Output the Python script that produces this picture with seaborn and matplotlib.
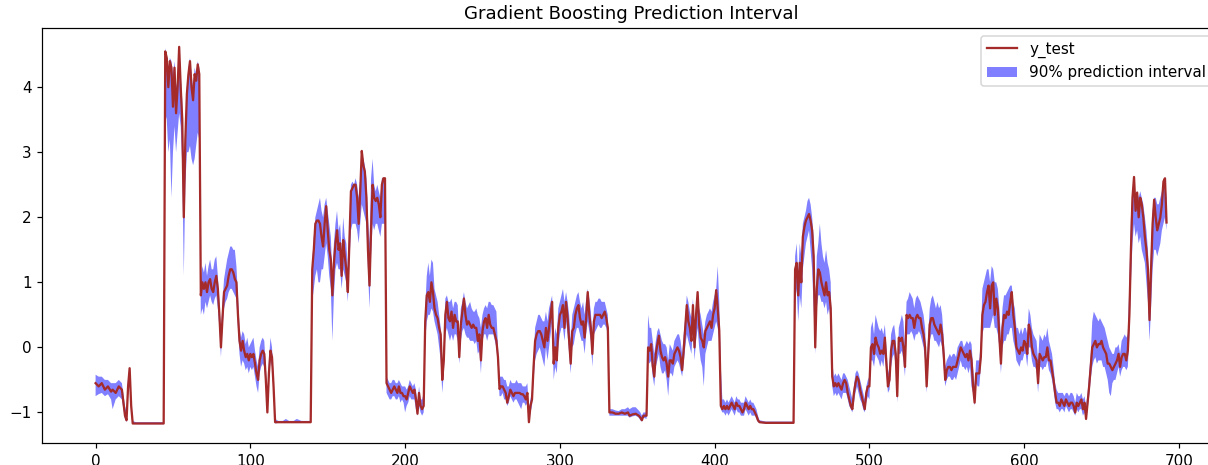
import matplotlib
matplotlib.use("Agg")
import matplotlib.pyplot as plt
import seaborn as sns

# sample index positions (x axis)
idx = ([0, 2, 4, 6, 8, 10, 11, 13, 15, 17, 19, 20, 21, 22, 23, 24, 26, 30, 34, 38, 42, 44]
       + list(range(45, 117))
       + [118, 121, 123, 125, 128, 130, 133, 136, 139]
       + list(range(140, 332))
       + [332, 334, 336, 338, 340, 342, 344, 345, 347, 349, 351, 352, 353, 354, 356]
       + list(range(357, 430))
       + [433, 437, 441, 445, 449, 451]
       + list(range(452, 693)))

y_test = [
    # A 0-44
    -0.55, -0.6, -0.55, -0.65, -0.6, -0.68, -0.65, -0.7, -0.6, -0.65, -1.05, -1.12, -0.6, -0.32, -0.9,
    -1.17, -1.17, -1.17, -1.17, -1.17, -1.17, -1.17,
    # B 45-67
    4.55, 4.45, 4.0, 4.4, 4.3, 3.7, 4.3, 3.6, 4.0, 4.62, 4.0, 3.5, 2.0, 3.2, 3.9, 4.2, 4.4, 4.0, 3.8, 4.2,
    4.1, 4.35, 4.2,
    # C 68-93
    0.8, 1.0, 0.9, 1.0, 0.85, 1.0, 1.05, 0.9, 0.85, 1.0, 1.1, 0.9, 0.5, 0.0, 0.45, 0.85, 0.9, 0.95, 1.1,
    1.2, 1.2, 1.15, 1.05, 1.0, 0.5, 0.1,
    # D 94-116
    -0.05, 0.1, -0.05, -0.15, -0.1, -0.2, -0.1, -0.15, -0.1, -0.25, -0.4, -0.5, -0.2, -0.1, -0.05, -0.1,
    -0.5, -1.0, -0.4, -0.05, -0.15, -0.6, -1.15,
    # flat
    -1.15, -1.15, -1.15, -1.15, -1.15, -1.15, -1.15, -1.15, -1.15,
    # E 140-188
    1.2, 1.5, 1.9, 1.95, 1.95, 1.9, 1.7, 1.55, 1.9, 2.17,
    1.8, 1.5, 1.35, 0.8, 1.3, 1.6, 1.8, 1.5, 1.6, 1.1,
    1.65, 1.4, 1.2, 0.85, 1.6, 2.4, 2.45, 2.5, 2.5, 2.3,
    1.9, 2.4, 3.02, 2.8, 2.7, 2.3, 1.5, 0.95, 1.8, 2.5,
    2.3, 2.25, 2.3, 2.2, 2.0, 2.5, 2.6, 2.6, -0.55,
    # F 189-212
    -0.6, -0.65, -0.7, -0.65, -0.6, -0.65, -0.7, -0.6, -0.7, -0.7,
    -0.75, -0.75, -0.8, -0.7, -0.6, -0.65, -0.7, -0.65, -0.8, -1.02,
    -0.7, -0.9, -0.95, -0.9,
    # G 213-260
    0.4, 0.8, 0.85, 0.7, 1.0, 0.85, 0.6, 0.5, 0.45, 0.3,
    0.2, -0.5, -0.2, 0.5, 0.7, 0.45, 0.4, 0.55, 0.3, 0.5,
    0.4, 0.4, -0.15, 0.35, 0.55, 0.75, 0.5, 0.35, 0.4, 0.35,
    0.3, 0.35, 0.3, 0.3, 0.1, 0.2, -0.2, 0.25, 0.4, 0.45,
    0.3, 0.5, 0.35, 0.3, 0.3, 0.2, 0.1, -0.15,
    # H 261-283
    -0.64, -0.6, -0.6, -0.65, -0.7, -0.85, -0.75, -0.65, -0.7, -0.75,
    -0.7, -0.7, -0.7, -0.7, -0.72, -0.72, -0.75, -0.8, -0.7, -1.15,
    -0.9, -0.8, -0.3,
    # I 284-331
    0.1, 0.2, 0.25, 0.25, 0.2, 0.1, 0.0, 0.3, 0.1, 0.3,
    0.5, 0.7, -0.25, 0.0, -0.2, 0.3, 0.5, 0.55, 0.65, 0.3,
    0.7, 0.45, 0.1, -0.25, 0.25, 0.3, 0.5, 0.6, 0.65, 0.45,
    0.35, 0.4, 0.15, 0.45, 0.85, 0.5, 0.3, -0.1, 0.4, 0.5,
    0.5, 0.5, 0.5, 0.45, 0.5, 0.55, 0.45, 0.3,
    # J 332-356
    -1.0, -1.0, -1.02, -1.02, -1.0, -1.02, -1.0, -1.05, -1.03, -1.02, -1.05, -1.08, -1.12, -1.05, -1.05,
    # K 357-404
    0.0, -0.05, 0.05, -0.28, -0.45, -0.1, 0.05, 0.18, -0.05, -0.15,
    -0.2, -0.15, -0.25, -0.45, -0.2, -0.2, -0.25, -0.1, -0.05, 0.0,
    -0.05, -0.15, -0.35, -0.05, 0.3, 0.65, 0.4, 0.3, 0.1, 0.65,
    0.0, 0.5, 0.85, 0.35, 0.15, 0.1, 0.0, 0.25, 0.3, 0.35,
    0.4, 0.3, 0.5, 0.6, 0.88, 0.6, 0.26, -0.9,
    # L 405-429
    -0.95, -0.9, -0.95, -0.9, -0.95, -0.9, -0.85, -0.9, -0.95, -0.85,
    -0.9, -0.9, -0.95, -1.0, -0.95, -0.85, -0.9, -0.95, -0.9, -0.95,
    -0.95, -1.0, -1.05, -1.12, -1.15,
    # flat
    -1.16, -1.16, -1.16, -1.16, -1.16, -1.16,
    # M 452-476
    1.2, 1.3, 0.8, 1.3, 1.0, 1.7, 1.85, 1.95, 2.0, 2.05,
    1.95, 1.8, 1.4, 0.0, 0.9, 1.2, 1.15, 1.0, 0.9, 0.8,
    1.0, 0.8, 0.85, 0.6, -0.45,
    # N 477-500
    -0.6, -0.55, -0.6, -0.55, -0.6, -0.65, -0.55, -0.5, -0.55, -0.7,
    -0.8, -0.9, -0.95, -0.7, -0.55, -0.45, -0.5, -0.65, -0.75, -0.85,
    -0.95, -0.7, -0.6, -0.6,
    # O 501-548
    0.0, 0.05, -0.1, 0.15, 0.05, 0.0, -0.1, -0.05, -0.1, 0.15,
    -0.25, -0.6, -0.5, -0.05, 0.1, 0.1, -0.1, -0.75, 0.15, 0.1,
    0.15, 0.0, -0.3, 0.5, 0.45, 0.5, 0.45, 0.45, 0.3, 0.45,
    0.5, 0.45, 0.45, 0.3, 0.2, 0.0, -0.6, -0.1, 0.35, 0.45,
    0.45, 0.35, 0.3, 0.25, 0.2, 0.35, 0.2, -0.1,
    # P 549-572
    -0.5, -0.35, -0.3, -0.3, -0.35, -0.3, -0.3, -0.3, -0.2, -0.1,
    0.0, -0.05, -0.1, -0.15, -0.1, -0.2, -0.05, -0.2, -0.6, -0.85,
    -0.4, -0.4, -0.4, -0.15,
    # Q 573-619
    0.5, 0.65, 0.7, 0.85, 0.95, 0.6, 0.95, 1.0, 0.5, 0.75,
    0.6, 0.15, -0.25, 0.3, 0.5, 0.45, 0.55, 0.5, 0.7, 0.85,
    0.5, 0.3, 0.0, -0.05, -0.1, 0.0, -0.05, 0.1, 0.05, -0.1,
    0.35, 0.25, 0.0, -0.1, -0.15, -0.2, -0.55, -0.1, -0.15, -0.2,
    -0.15, -0.15, 0.0, -0.2, -0.2, -0.35, -0.5,
    # R 620-643
    -0.7, -0.85, -0.85, -0.9, -0.8, -0.85, -0.9, -0.8, -0.85, -0.9,
    -0.85, -0.85, -0.9, -1.0, -0.85, -0.9, -0.85, -0.8, -0.95, -0.85,
    -1.1, -0.85, -0.6, -0.3,
    # S 644-668
    0.0, 0.05, 0.1, 0.0, 0.05, 0.05, 0.1, 0.0, -0.05, -0.1,
    -0.25, -0.25, -0.3, -0.35, -0.3, -0.25, -0.2, -0.1, -0.3, -0.15,
    -0.1, -0.1, -0.2, -0.05, 0.5,
    # T 669-692
    1.5, 2.3, 2.62, 2.1, 2.38, 2.0, 2.3, 2.2, 2.0, 1.7,
    1.5, 1.2, 0.42, 1.2, 1.9, 2.27, 2.0, 1.8, 1.9, 2.0,
    2.2, 2.55, 2.6, 1.92,
]

y_lower = [
    # A
    -0.75, -0.72, -0.7, -0.75, -0.72, -0.8, -0.95, -0.8, -0.75, -0.8, -1.1, -1.15, -0.75, -0.4, -1.0,
    -1.17, -1.18, -1.18, -1.18, -1.18, -1.18, -1.18,
    # B
    3.6, 3.5, 3.0, 3.2, 2.3, 3.0, 3.4, 3.0, 3.3, 3.6, 3.4, 2.8, 1.1, 2.5, 3.0, 3.0, 3.1, 2.9, 2.8, 2.9,
    3.1, 3.3, 3.2,
    # C
    0.5, 0.6, 0.5, 0.7, 0.6, 0.7, 0.8, 0.7, 0.65, 0.75, 0.8, 0.6, 0.3, -0.15, 0.3, 0.6, 0.7, 0.75, 0.85,
    0.9, 0.9, 0.85, 0.8, 0.75, 0.3, -0.1,
    # D
    -0.3, -0.2, -0.25, -0.35, -0.3, -0.4, -0.3, -0.35, -0.3, -0.45, -0.6, -0.7, -0.4, -0.3, -0.25, -0.3,
    -0.6, -1.0, -0.5, -0.2, -0.3, -0.7, -1.17,
    # flat
    -1.16, -1.16, -1.16, -1.16, -1.16, -1.16, -1.16, -1.16, -1.16,
    # E
    0.7, 0.9, 1.1, 1.2, 1.0, 1.0, 1.2, 1.2, 1.4, 1.6,
    1.4, 1.1, 0.9, 0.1, 0.8, 1.2, 1.3, 1.2, 1.2, 0.9,
    1.2, 1.1, 1.0, 0.7, 1.3, 1.8, 1.9, 1.9, 1.9, 1.8,
    1.6, 1.9, 2.2, 2.1, 2.0, 1.9, 1.2, 0.6, 1.4, 1.9,
    1.8, 1.9, 1.9, 1.8, 1.7, 1.9, 1.9, 1.9, -0.7,
    # F
    -0.75, -0.8, -0.8, -0.75, -0.75, -0.8, -0.8, -0.75, -0.85, -0.8,
    -0.85, -1.0, -0.9, -0.85, -0.75, -0.8, -0.8, -0.8, -0.95, -1.05,
    -0.9, -1.0, -1.05, -1.0,
    # G
    0.1, 0.4, 0.5, 0.5, 0.6, 0.55, 0.4, 0.3, 0.2, 0.0,
    -0.2, -0.7, -0.4, 0.2, 0.3, 0.2, 0.1, 0.2, 0.1, 0.2,
    0.2, 0.1, -0.25, 0.1, 0.25, 0.3, 0.2, 0.15, 0.15, 0.1,
    0.1, 0.1, 0.05, 0.1, -0.1, -0.05, -0.4, 0.1, 0.2, 0.2,
    0.1, 0.2, 0.2, 0.2, 0.2, 0.1, 0.0, -0.3,
    # H
    -0.75, -0.75, -0.7, -0.8, -0.8, -0.9, -0.85, -0.75, -0.8, -0.85,
    -0.8, -0.8, -0.85, -0.9, -0.95, -0.85, -0.85, -0.9, -0.85, -1.15,
    -1.0, -0.9, -0.5,
    # I
    -0.2, -0.1, -0.05, 0.0, -0.1, -0.2, -0.3, 0.0, -0.2, 0.0,
    0.2, 0.4, -0.5, -0.3, -0.4, 0.0, 0.2, 0.3, 0.3, 0.1,
    0.4, 0.2, -0.1, -0.4, 0.0, 0.05, 0.2, 0.3, 0.3, 0.2,
    0.1, 0.1, -0.1, 0.2, 0.4, 0.25, 0.1, -0.3, 0.2, 0.25,
    0.3, 0.35, 0.3, 0.3, 0.35, 0.35, 0.3, 0.2,
    # J
    -1.05, -1.05, -1.05, -1.05, -1.05, -1.05, -1.05, -1.08, -1.06, -1.05, -1.08, -1.12, -1.14, -1.08, -1.1,
    # K
    -0.2, -0.25, -0.2, -0.45, -0.6, -0.3, -0.2, -0.1, -0.3, -0.4,
    -0.4, -0.35, -0.5, -0.75, -0.4, -0.4, -0.45, -0.3, -0.25, -0.2,
    -0.25, -0.35, -0.45, -0.25, 0.0, 0.2, 0.1, 0.0, -0.1, 0.3,
    -0.2, 0.1, 0.3, 0.0, -0.2, -0.3, -0.6, -0.1, 0.0, 0.1,
    0.1, 0.1, 0.2, 0.3, 0.4, 0.3, 0.1, -0.95,
    # L
    -1.0, -1.0, -1.05, -1.0, -1.05, -1.0, -0.95, -1.0, -1.05, -0.95,
    -1.0, -1.0, -1.05, -1.05, -1.05, -0.95, -1.0, -1.05, -1.0, -1.05,
    -1.05, -1.05, -1.1, -1.15, -1.16,
    # flat
    -1.17, -1.17, -1.17, -1.17, -1.17, -1.17,
    # M
    0.7, 0.9, 0.4, 0.8, 0.6, 1.2, 1.4, 1.6, 1.7, 1.8,
    1.5, 1.2, 0.6, -0.1, 0.6, 0.8, 0.8, 0.7, 0.7, 0.6,
    0.7, 0.5, 0.6, 0.4, -0.6,
    # N
    -0.75, -0.7, -0.75, -0.7, -0.75, -0.8, -0.7, -0.7, -0.7, -0.8,
    -0.9, -0.95, -1.0, -0.85, -0.7, -0.6, -0.7, -0.8, -0.85, -0.95,
    -1.0, -0.85, -0.75, -0.8,
    # O
    -0.2, -0.2, -0.3, -0.1, -0.15, -0.2, -0.3, -0.2, -0.3, -0.1,
    -0.4, -0.7, -0.65, -0.3, -0.15, -0.1, -0.3, -0.85, -0.1, -0.1,
    -0.05, -0.2, -0.45, 0.2, 0.2, 0.2, 0.25, 0.2, 0.1, 0.2,
    0.2, 0.25, 0.2, 0.1, 0.0, -0.2, -0.7, -0.3, 0.1, 0.2,
    0.2, 0.1, 0.1, 0.05, 0.0, 0.1, 0.0, -0.3,
    # P
    -0.6, -0.5, -0.45, -0.45, -0.5, -0.5, -0.45, -0.5, -0.4, -0.3,
    -0.2, -0.3, -0.3, -0.35, -0.3, -0.4, -0.3, -0.6, -0.7, -0.9,
    -0.55, -0.6, -0.6, -0.3,
    # Q
    0.2, 0.3, 0.3, 0.3, 0.3, 0.3, 0.4, 0.5, 0.3, 0.3,
    0.2, 0.0, -0.4, 0.0, 0.1, 0.1, 0.2, 0.2, 0.3, 0.3,
    0.1, 0.0, -0.2, -0.25, -0.3, -0.2, -0.2, -0.1, -0.1, -0.3,
    0.0, 0.0, -0.2, -0.3, -0.3, -0.35, -0.7, -0.3, -0.3, -0.35,
    -0.3, -0.3, -0.2, -0.35, -0.4, -0.5, -0.65,
    # R
    -0.85, -0.95, -0.95, -1.0, -0.95, -0.95, -1.0, -0.9, -0.95, -1.0,
    -0.95, -0.95, -1.0, -1.05, -0.95, -1.0, -0.95, -0.95, -1.05, -1.0,
    -1.12, -0.95, -0.75, -0.5,
    # S
    -0.3, -0.2, -0.15, -0.25, -0.2, -0.2, -0.2, -0.3, -0.3, -0.4,
    -0.5, -0.7, -0.75, -0.55, -0.5, -0.5, -0.4, -0.3, -0.45, -0.35,
    -0.3, -0.3, -0.35, -0.3, 0.2,
    # T
    1.0, 1.6, 1.9, 1.7, 1.8, 1.6, 1.7, 1.5, 1.4, 1.3,
    1.0, 0.7, 0.1, 0.6, 1.2, 1.5, 1.5, 1.4, 1.5, 1.6,
    1.8, 1.9, 2.0, 1.8,
]

y_upper = [
    # A
    -0.42, -0.45, -0.45, -0.5, -0.5, -0.55, -0.55, -0.55, -0.5, -0.55, -0.9, -1.0, -0.45, -0.3, -0.8,
    -1.13, -1.15, -1.15, -1.15, -1.15, -1.15, -1.15,
    # B
    4.6, 4.5, 4.3, 4.45, 4.4, 4.2, 4.4, 4.0, 4.1, 4.62, 4.2, 3.8, 2.5, 3.4, 4.0, 4.3, 4.45, 4.2, 4.0, 4.3,
    4.2, 4.4, 4.3,
    # C
    1.0, 1.25, 1.15, 1.3, 1.1, 1.25, 1.35, 1.2, 1.2, 1.35, 1.4, 1.1, 0.7, 0.2, 0.7, 1.05, 1.2, 1.35, 1.45,
    1.55, 1.55, 1.5, 1.5, 1.25, 0.8, 0.3,
    # D
    0.15, 0.25, 0.2, 0.05, 0.15, 0.0, 0.05, 0.1, 0.15, -0.05, -0.2, -0.3, 0.0, 0.1, 0.15, 0.1,
    -0.3, -0.8, -0.2, 0.15, 0.0, -0.45, -1.1,
    # flat
    -1.13, -1.13, -1.1, -1.13, -1.13, -1.1, -1.13, -1.13, -1.13,
    # E
    1.3, 1.7, 2.0, 2.1, 2.2, 2.3, 2.1, 2.0, 2.2, 2.3,
    2.1, 1.9, 1.7, 1.1, 1.6, 1.9, 2.1, 1.8, 1.9, 1.5,
    2.0, 1.7, 1.6, 1.2, 1.9, 2.5, 2.55, 2.5, 2.6, 2.5,
    2.3, 2.6, 3.0, 2.9, 2.8, 2.6, 2.0, 1.6, 2.6, 2.9,
    2.5, 2.4, 2.5, 2.4, 2.3, 2.6, 2.6, 2.6, -0.45,
    # F
    -0.5, -0.55, -0.55, -0.5, -0.5, -0.55, -0.55, -0.5, -0.55, -0.6,
    -0.6, -0.6, -0.65, -0.6, -0.5, -0.55, -0.6, -0.55, -0.65, -0.85,
    -0.6, -0.8, -0.8, -0.7,
    # G
    0.6, 1.1, 1.3, 1.1, 1.35, 1.3, 0.9, 0.8, 0.7, 0.5,
    0.3, -0.3, 0.0, 0.75, 0.8, 0.7, 0.7, 0.75, 0.6, 0.7,
    0.7, 0.65, 0.1, 0.6, 0.7, 0.85, 0.7, 0.6, 0.65, 0.7,
    0.6, 0.55, 0.55, 0.6, 0.5, 0.45, 0.3, 0.5, 0.6, 0.65,
    0.6, 0.7, 0.7, 0.65, 0.65, 0.6, 0.55, 0.0,
    # H
    -0.45, -0.45, -0.45, -0.5, -0.5, -0.6, -0.6, -0.5, -0.55, -0.55,
    -0.55, -0.5, -0.55, -0.55, -0.55, -0.6, -0.6, -0.6, -0.55, -0.95,
    -0.8, -0.65, -0.2,
    # I
    0.3, 0.4, 0.5, 0.5, 0.45, 0.4, 0.4, 0.55, 0.4, 0.6,
    0.7, 0.8, 0.0, 0.3, 0.2, 0.6, 0.7, 0.8, 0.9, 0.7,
    0.85, 0.7, 0.5, 0.1, 0.5, 0.6, 0.7, 0.8, 0.85, 0.7,
    0.6, 0.7, 0.5, 0.75, 0.9, 0.75, 0.55, 0.2, 0.6, 0.7,
    0.7, 0.75, 0.75, 0.7, 0.7, 0.7, 0.6, 0.5,
    # J
    -0.95, -0.95, -0.97, -0.98, -0.95, -0.95, -0.92, -0.95, -0.92, -0.92, -0.97, -1.0, -1.05, -1.0, -1.0,
    # K
    0.5, 0.3, 0.3, 0.1, -0.1, 0.1, 0.25, 0.3, 0.2, 0.1,
    0.05, 0.05, 0.0, -0.2, 0.05, 0.0, -0.05, 0.1, 0.15, 0.2,
    0.2, 0.1, -0.1, 0.2, 0.45, 0.8, 0.7, 0.55, 0.45, 0.75,
    0.3, 0.65, 0.85, 0.6, 0.5, 0.35, 0.2, 0.4, 0.5, 0.55,
    0.6, 0.55, 0.7, 0.8, 0.9, 1.25, 0.7, -0.3,
    # L
    -0.8, -0.8, -0.85, -0.8, -0.85, -0.8, -0.75, -0.8, -0.85, -0.75,
    -0.8, -0.8, -0.85, -0.85, -0.85, -0.75, -0.8, -0.85, -0.8, -0.85,
    -0.85, -0.9, -0.95, -1.05, -1.12,
    # flat
    -1.14, -1.14, -1.14, -1.14, -1.14, -1.14,
    # M
    1.4, 1.6, 1.1, 1.6, 1.4, 1.9, 2.0, 2.1, 2.25, 2.3,
    2.2, 2.0, 1.7, 0.5, 1.4, 1.6, 1.9, 1.6, 1.4, 1.3,
    1.5, 1.3, 1.2, 1.0, -0.2,
    # N
    -0.45, -0.4, -0.45, -0.4, -0.45, -0.5, -0.4, -0.4, -0.45, -0.5,
    -0.6, -0.7, -0.8, -0.6, -0.4, -0.35, -0.4, -0.5, -0.6, -0.7,
    -0.8, -0.6, -0.5, -0.45,
    # O
    0.3, 0.4, 0.2, 0.5, 0.4, 0.3, 0.25, 0.3, 0.2, 0.35,
    0.0, -0.4, -0.3, 0.2, 0.3, 0.35, 0.15, -0.5, 0.3, 0.4,
    0.5, 0.4, 0.0, 0.7, 0.75, 0.85, 0.8, 0.75, 0.6, 0.75,
    0.8, 0.75, 0.7, 0.6, 0.5, 0.3, -0.3, 0.2, 0.6, 0.75,
    0.8, 0.7, 0.6, 0.7, 0.6, 0.65, 0.5, 0.15,
    # P
    -0.3, -0.2, -0.15, -0.1, -0.15, -0.1, -0.1, -0.15, 0.0, 0.05,
    0.1, 0.1, 0.0, 0.05, 0.1, 0.05, 0.1, 0.05, -0.3, -0.6,
    -0.2, -0.2, -0.2, 0.1,
    # Q
    0.9, 1.0, 1.1, 1.2, 1.2, 1.0, 1.25, 1.2, 1.0, 1.0,
    0.9, 0.6, 0.1, 0.6, 0.8, 0.8, 0.85, 0.9, 0.95, 0.95,
    0.7, 0.6, 0.3, 0.3, 0.2, 0.3, 0.2, 0.3, 0.3, 0.2,
    0.6, 0.5, 0.3, 0.2, 0.15, 0.1, -0.2, 0.2, 0.15, 0.1,
    0.2, 0.15, 0.3, 0.1, 0.0, -0.1, -0.3,
    # R
    -0.55, -0.65, -0.7, -0.7, -0.7, -0.7, -0.75, -0.7, -0.7, -0.75,
    -0.7, -0.7, -0.75, -0.85, -0.7, -0.75, -0.75, -0.7, -0.8, -0.75,
    -0.9, -0.7, -0.4, -0.1,
    # S
    0.4, 0.55, 0.5, 0.45, 0.4, 0.45, 0.4, 0.35, 0.3, 0.2,
    0.1, 0.0, -0.05, -0.1, -0.1, 0.0, 0.0, 0.05, -0.1, 0.1,
    0.15, 0.2, 0.15, 0.2, 1.0,
    # T
    2.0, 2.4, 2.5, 2.3, 2.4, 2.3, 2.4, 2.3, 2.2, 2.0,
    1.8, 1.5, 0.8, 1.5, 2.1, 2.3, 2.3, 2.2, 2.2, 2.3,
    2.4, 2.5, 2.6, 2.3,
]

title = "Gradient Boosting Prediction Interval"

DPI = 109
fig = plt.figure(figsize=(1208 / DPI, 465 / DPI), dpi=DPI)
ax = fig.add_axes([0.0348, 0.0473, 0.9752, 0.8925])

band = ax.fill_between(idx, y_lower, y_upper, color="b", alpha=0.5, edgecolor="none",
                       label="90% prediction interval")
sns.lineplot(x=idx, y=y_test, color="brown", linewidth=1.5, label="y_test", ax=ax)

ax.set_title(title, fontsize=12)
handles, labels = ax.get_legend_handles_labels()
order = [labels.index("y_test"), labels.index("90% prediction interval")]
ax.legend([handles[i] for i in order], [labels[i] for i in order],
          loc="upper right", fontsize=10)
ax.set_xticks([0, 100, 200, 300, 400, 500, 600, 700])
ax.set_yticks([-1, 0, 1, 2, 3, 4])

fig.savefig("out.png", dpi=DPI)
